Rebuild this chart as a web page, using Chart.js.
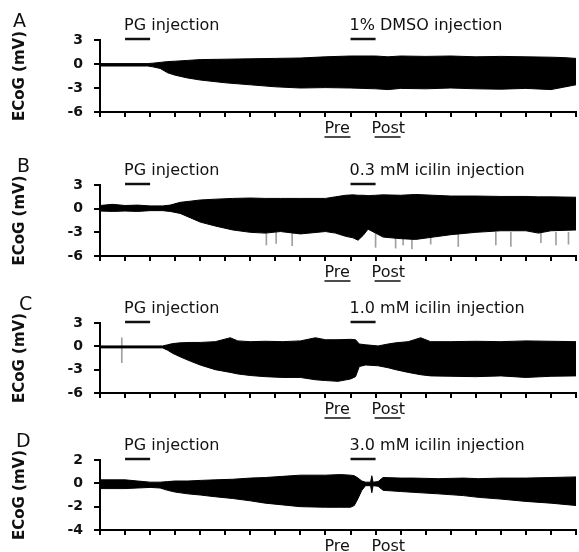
<!DOCTYPE html>
<html>
<head>
<meta charset="utf-8">
<script src="https://cdn.jsdelivr.net/npm/chart.js@4.4.1/dist/chart.umd.min.js"></script>
<style>
  body { margin: 0; background: #fff; width: 579px; height: 552px; position: relative; overflow: hidden; }
  canvas { position: absolute; left: 0; }
</style>
</head>
<body>
<canvas id="panelA"></canvas>
<canvas id="panelB"></canvas>
<canvas id="panelC"></canvas>
<canvas id="panelD"></canvas>
<script>
// time axis in ticks (one tick per interval), ECoG envelope in mV
const aTime  = [0, 1.9, 2.1, 2.4, 2.7, 3.0, 3.5, 4, 5, 6, 7, 8, 9, 10, 11, 11.5, 12, 13, 14, 15, 16, 17, 18, 18.5, 19];
const aUpper = [0.05, 0.05, 0.1, 0.2, 0.3, 0.35, 0.45, 0.55, 0.6, 0.65, 0.7, 0.75, 0.9, 1.0, 1.0, 0.9, 1.0, 0.95, 1.0, 0.9, 0.95, 0.9, 0.85, 0.8, 0.7];
const aLower = [-0.25, -0.25, -0.35, -0.55, -1.1, -1.4, -1.75, -2.0, -2.35, -2.6, -2.85, -3.0, -2.95, -3.0, -3.1, -3.2, -3.05, -3.1, -3.0, -3.1, -3.15, -3.05, -3.2, -2.9, -2.6];

const bTime  = [0, 0.5, 1, 1.5, 2, 2.5, 2.8, 3.2, 3.6, 4, 4.6, 5.3, 6, 6.6, 7.2, 8, 9, 9.4, 9.8, 10.1, 10.3, 10.5, 10.7, 11.0, 11.3, 12, 12.6, 13.3, 14, 15, 16, 17, 17.5, 18, 19];
const bUpper = [0.4, 0.55, 0.4, 0.45, 0.35, 0.35, 0.45, 0.8, 0.95, 1.1, 1.2, 1.3, 1.35, 1.3, 1.3, 1.3, 1.3, 1.5, 1.7, 1.75, 1.7, 1.7, 1.65, 1.7, 1.75, 1.7, 1.8, 1.7, 1.6, 1.6, 1.55, 1.55, 1.5, 1.5, 1.45];
const bLower = [-0.3, -0.35, -0.3, -0.35, -0.25, -0.25, -0.35, -0.6, -1.15, -1.7, -2.2, -2.7, -3.0, -3.1, -2.9, -3.2, -2.9, -3.1, -3.5, -3.7, -4.0, -3.4, -2.6, -3.1, -3.6, -3.8, -3.9, -3.6, -3.3, -3.0, -2.8, -2.8, -3.1, -2.8, -2.7];
// grey artefact spikes below the trace in B
const bSpikeTime = [6.64, 7.03, 7.67, 11.0, 11.8, 12.1, 12.45, 13.2, 14.3, 15.8, 16.4, 17.6, 18.2, 18.7];
const bSpikeLow  = [-4.6, -4.4, -4.7, -4.9, -5.0, -4.6, -5.1, -4.5, -4.8, -4.6, -4.8, -4.3, -4.6, -4.5];

const cTime  = [0, 2.5, 2.7, 2.9, 3.2, 3.6, 4, 4.6, 5.2, 5.5, 6, 6.6, 7.3, 8, 8.6, 9, 9.5, 10, 10.2, 10.35, 10.6, 11.1, 11.5, 11.8, 12.3, 12.8, 13.2, 14, 15, 16, 17, 18, 19];
const cUpper = [0.05, 0.05, 0.2, 0.35, 0.45, 0.5, 0.5, 0.6, 1.1, 0.7, 0.6, 0.65, 0.6, 0.7, 1.1, 0.85, 0.85, 0.9, 0.85, 0.3, 0.2, 0.05, 0.3, 0.45, 0.6, 1.1, 0.6, 0.6, 0.65, 0.6, 0.7, 0.65, 0.6];
const cLower = [-0.2, -0.2, -0.5, -0.9, -1.35, -1.9, -2.4, -3.0, -3.35, -3.55, -3.75, -3.9, -4.0, -4.0, -4.3, -4.4, -4.5, -4.2, -3.9, -2.6, -2.4, -2.5, -2.75, -3.0, -3.35, -3.65, -3.8, -3.85, -3.9, -3.8, -4.0, -3.85, -3.8];
const cSpikeTime = [0.87];
const cSpikeLow  = [-2.1];
const cSpikeHigh = [1.1];

const dTime  = [0, 1, 1.5, 2, 2.4, 2.7, 3, 3.5, 4, 4.6, 5.3, 6, 6.6, 7.3, 8, 9, 9.6, 10.0, 10.15, 10.3, 10.45, 10.6, 10.8, 10.85, 10.9, 11.1, 11.3, 12, 12.5, 13.5, 14.5, 15.1, 16, 17, 18, 19];
const dUpper = [0.3, 0.3, 0.2, 0.1, 0.1, 0.15, 0.2, 0.2, 0.25, 0.3, 0.35, 0.45, 0.5, 0.6, 0.7, 0.7, 0.75, 0.7, 0.65, 0.45, 0.2, 0.1, 0.1, 0.65, 0.1, 0.15, 0.5, 0.45, 0.45, 0.4, 0.45, 0.4, 0.45, 0.45, 0.5, 0.55];
const dLower = [-0.45, -0.45, -0.4, -0.35, -0.4, -0.6, -0.75, -0.9, -1.0, -1.15, -1.3, -1.5, -1.7, -1.85, -2.0, -2.05, -2.05, -2.05, -1.9, -1.3, -0.6, -0.2, -0.2, -0.8, -0.2, -0.25, -0.6, -0.7, -0.77, -0.9, -1.05, -1.2, -1.35, -1.55, -1.7, -1.9];

const injectionLabels = ['1% DMSO injection', '0.3 mM icilin injection', '1.0 mM icilin injection', '3.0 mM icilin injection'];
const pgSpan = [1, 2];
const drugSpan = [10, 11];
const phaseLabels = ['Pre', 'Post'];
const phaseSpans = [[9, 10], [11, 12]];

const pts = (xs, ys) => xs.map((x, i) => ({ x, y: ys[i] }));
const bars = (xs, lo, hi) => xs.map((x, i) => ({ x, y: [lo[i], hi ? hi[i] : -3.0] }));

const annotate = {
    id: 'annotate',
    afterDraw(chart, args, o) {
        const { ctx, chartArea } = chart;
        const x = chart.scales.x;
        const top = chartArea.top, bottom = chartArea.bottom;
        ctx.save();
        ctx.fillStyle = '#111';
        ctx.strokeStyle = '#111';
        ctx.textBaseline = 'alphabetic';

        ctx.font = '19px "DejaVu Sans"';
        ctx.fillText(o.letter, o.letterX, top - 13);

        ctx.font = '16px "DejaVu Sans"';
        ctx.fillText('PG injection', x.getPixelForValue(pgSpan[0]) - 1, top - 10);
        ctx.fillText(o.drug, x.getPixelForValue(drugSpan[0]) - 1, top - 10);
        ctx.lineWidth = 2.5;
        [pgSpan, drugSpan].forEach(s => {
            ctx.beginPath();
            ctx.moveTo(x.getPixelForValue(s[0]), top - 1);
            ctx.lineTo(x.getPixelForValue(s[1]), top - 1);
            ctx.stroke();
        });

        ctx.lineWidth = 1.5;
        phaseLabels.forEach((lbl, i) => {
            const s = phaseSpans[i];
            const x0 = x.getPixelForValue(s[0]);
            ctx.fillText(lbl, x0 - (i ? 4 : 1), bottom + 21);
            ctx.beginPath();
            ctx.moveTo(x0 - 1, bottom + 25);
            ctx.lineTo(x.getPixelForValue(s[1]), bottom + 25);
            ctx.stroke();
        });
        ctx.restore();
    }
};

function makePanel(id, p) {
    const canvas = document.getElementById(id);
    canvas.width = 579;
    canvas.height = p.height;
    canvas.style.top = p.top + 'px';

    const datasets = [
        { data: pts(p.time, p.upper), fill: '+1', backgroundColor: '#000', borderColor: '#000', borderWidth: 1, pointRadius: 0, tension: 0 },
        { data: pts(p.time, p.lower), fill: false, borderColor: '#000', borderWidth: 1, pointRadius: 0, tension: 0 }
    ];
    if (p.spikes) {
        datasets.push({ type: 'bar', data: p.spikes, backgroundColor: '#a0a0a0', barThickness: 1 });
    }

    return new Chart(canvas, {
        type: 'line',
        data: { datasets },
        plugins: [annotate],
        options: {
            responsive: false,
            animation: false,
            events: [],
            layout: { padding: { top: p.areaTop - p.top, left: 0, right: 1, bottom: 0 } },
            plugins: {
                legend: { display: false },
                tooltip: { enabled: false },
                annotate: { letter: p.letter, letterX: p.letterX, drug: p.drug }
            },
            scales: {
                x: {
                    type: 'linear', min: 0, max: 19, offset: false,
                    ticks: { stepSize: 1, autoSkip: false, callback: () => '' },
                    grid: { offset: false, drawOnChartArea: false, tickLength: 5, color: '#000', lineWidth: 2 },
                    border: { color: '#000', width: 2 },
                    afterFit: s => { s.height = p.top + p.height - p.areaBottom; }
                },
                y: {
                    min: p.min, max: p.max,
                    ticks: { stepSize: p.step, color: '#111', padding: 11,
                        font: { family: 'DejaVu Sans', weight: 'bold', size: 14 } },
                    grid: { drawOnChartArea: false, tickLength: 6, color: '#000', lineWidth: 2 },
                    border: { color: '#000', width: 2 },
                    title: { display: true, text: 'ECoG (mV)', color: '#111', padding: { top: 11, bottom: 0 },
                        font: { family: 'DejaVu Sans', weight: 'bold', size: 15 } },
                    afterFit: s => { s.width = 100; }
                }
            }
        }
    });
}

makePanel('panelA', { top: 0, height: 141, areaTop: 40, areaBottom: 112, min: -6, max: 3, step: 3,
    letter: 'A', letterX: 13, drug: injectionLabels[0], time: aTime, upper: aUpper, lower: aLower });
makePanel('panelB', { top: 141, height: 143, areaTop: 185, areaBottom: 256, min: -6, max: 3, step: 3,
    letter: 'B', letterX: 17, drug: injectionLabels[1], time: bTime, upper: bUpper, lower: bLower,
    spikes: bars(bSpikeTime, bSpikeLow) });
makePanel('panelC', { top: 284, height: 136, areaTop: 323, areaBottom: 393, min: -6, max: 3, step: 3,
    letter: 'C', letterX: 19, drug: injectionLabels[2], time: cTime, upper: cUpper, lower: cLower,
    spikes: bars(cSpikeTime, cSpikeLow, cSpikeHigh) });
makePanel('panelD', { top: 420, height: 132, areaTop: 460, areaBottom: 530, min: -4, max: 2, step: 2,
    letter: 'D', letterX: 16, drug: injectionLabels[3], time: dTime, upper: dUpper, lower: dLower });
</script>
</body>
</html>
